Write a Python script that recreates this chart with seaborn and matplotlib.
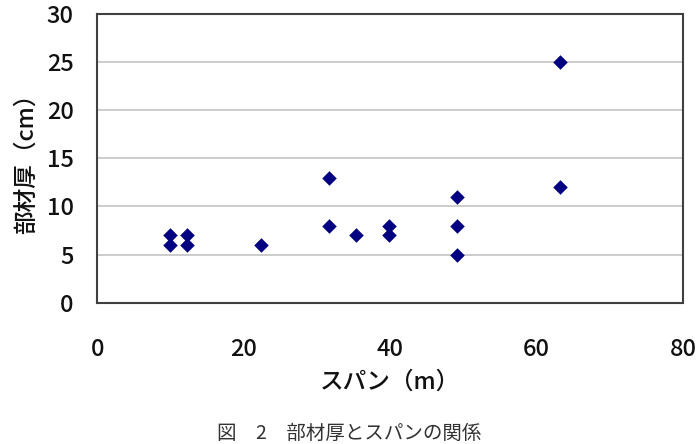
import matplotlib
matplotlib.use("Agg")
import matplotlib.pyplot as plt
import seaborn as sns
import pandas as pd

# スパン(m) と 部材厚(cm)
span = [10, 10, 12.3, 12.3, 22.4, 31.6, 31.6, 35.3, 39.8, 39.8, 49.2, 49.2, 49.2, 63.2, 63.2]
thickness = [7, 6, 7, 6, 6, 13, 8, 7, 8, 7, 11, 8, 5, 25, 12]
x_ticks = [0, 20, 40, 60, 80]
y_ticks = [0, 5, 10, 15, 20, 25, 30]

sns.set_style("white")
plt.rcParams['font.family'] = ['Noto Sans CJK JP', 'DejaVu Sans']

df = pd.DataFrame({"span": span, "thickness": thickness})

fig = plt.figure(figsize=(6.99, 4.44), dpi=100)
ax = fig.add_axes([0.139, 0.318, 0.838, 0.651])

sns.scatterplot(data=df, x="span", y="thickness", marker="D", s=55,
                color="#000080", edgecolor="#000080", linewidth=0, ax=ax, zorder=3)

ax.set_xlim(0, 80)
ax.set_ylim(0, 30)
ax.set_xticks(x_ticks)
ax.set_yticks(y_ticks)
ax.yaxis.grid(True, color="#c8c8c8", linewidth=1.3)
ax.set_axisbelow(True)

for sp in ax.spines.values():
    sp.set_color("#404040")
    sp.set_linewidth(1.5)

ax.tick_params(axis="x", direction="in", length=6, width=1.2, color="#404040",
               pad=25, labelsize=17, labelcolor="#111111")
ax.tick_params(axis="y", direction="in", length=6, width=1.2, color="#404040",
               pad=17, labelsize=17, labelcolor="#111111")
for lab in ax.get_xticklabels() + ax.get_yticklabels():
    lab.set_fontweight("medium")

ax.set_xlabel("スパン（m）", fontsize=17, color="#111111", labelpad=7, fontweight="medium")
ax.set_ylabel("部材厚（cm）", fontsize=17, color="#111111", labelpad=6, fontweight="medium")

fig.text(0.5, 0.0, "図　2　部材厚とスパンの関係", ha="center", va="bottom",
         fontsize=14, color="#333333")

fig.savefig("out.png", dpi=100)
